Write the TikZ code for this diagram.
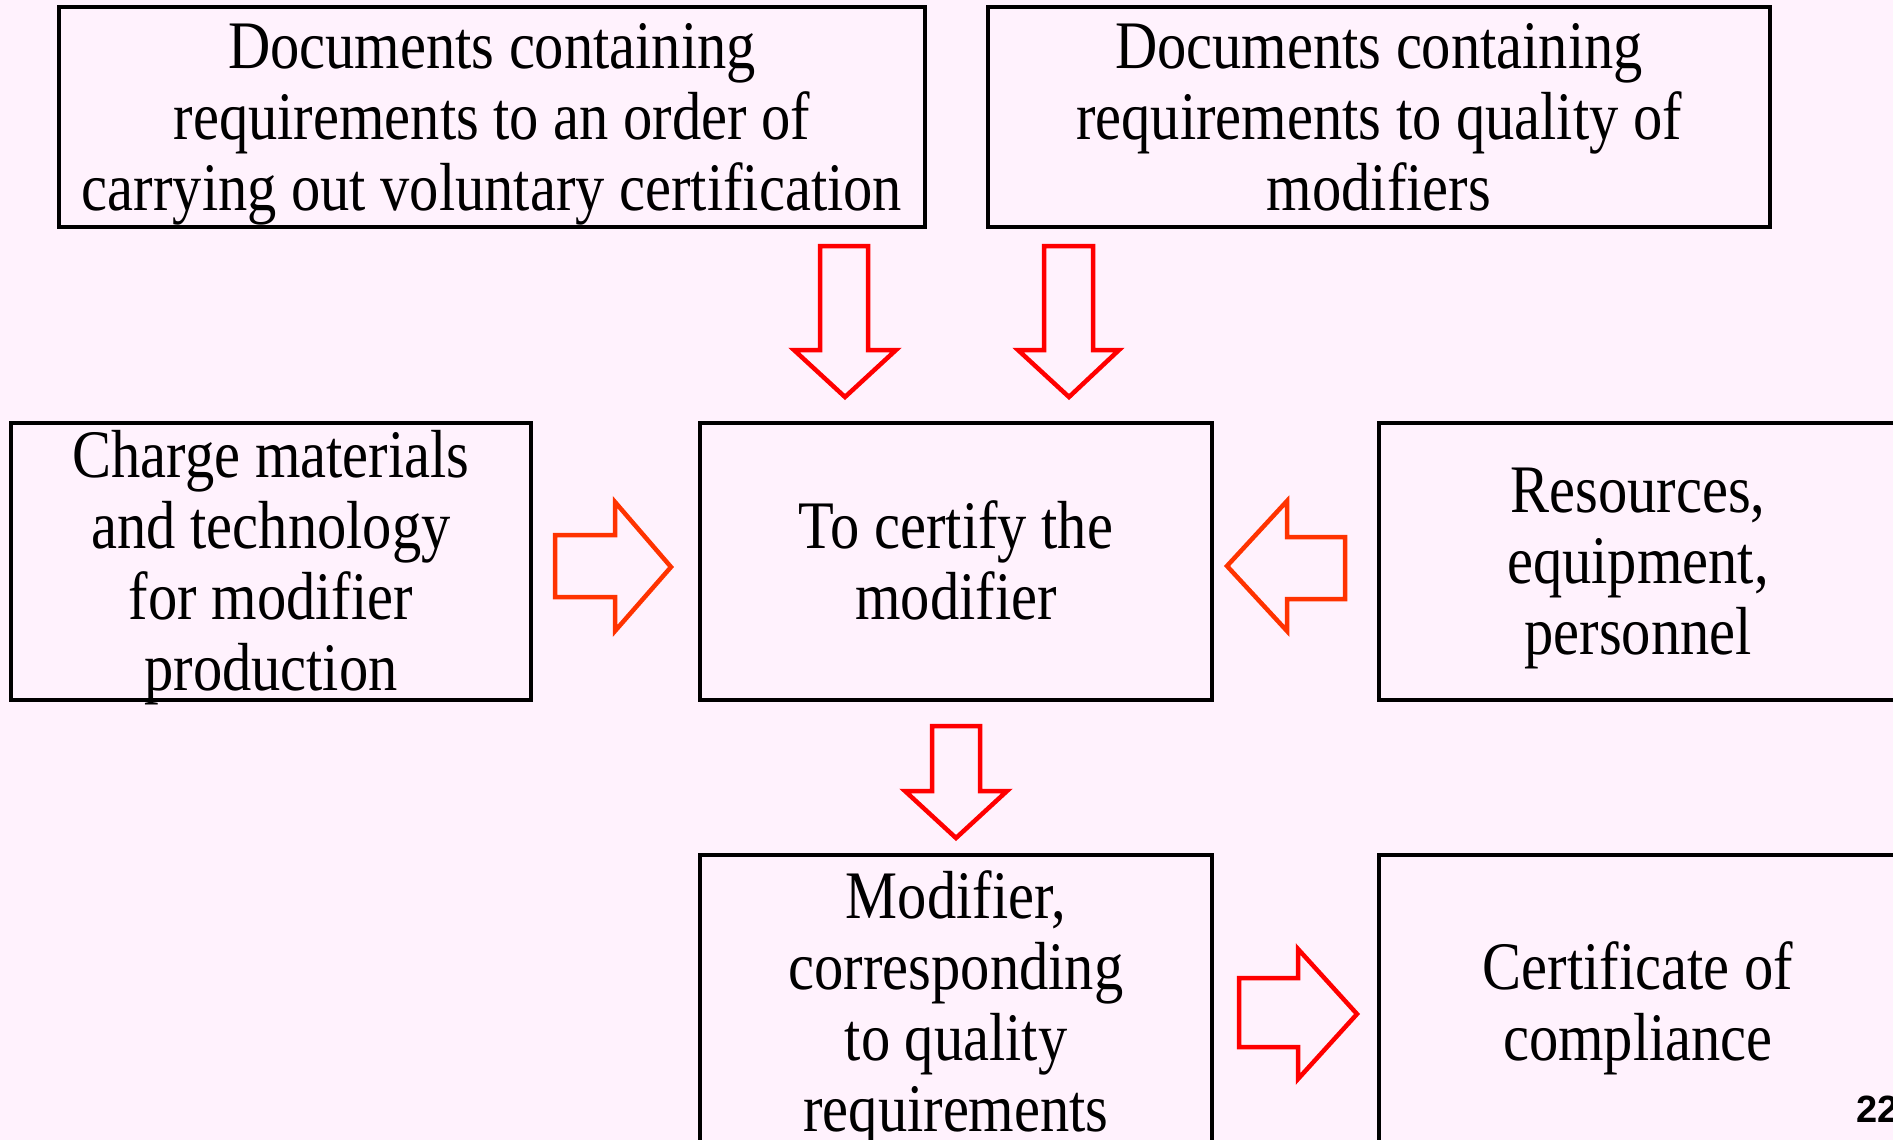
\documentclass[tikz,border=0pt]{standalone}
\usepackage{fontspec}
\setmainfont{Liberation Serif}[FakeStretch=0.86]
\newfontfamily\numfont{Liberation Sans}
\definecolor{bgpink}{RGB}{255,242,253}
\definecolor{arrred}{RGB}{255,0,0}
\definecolor{arrorange}{RGB}{255,51,0}
\begin{document}
\begin{tikzpicture}[x=1pt,y=-1pt,
  box/.style={draw=black,line width=4pt,rectangle,inner sep=0pt},
  boxtext/.style={align=center,inner sep=0pt,yshift=-8pt,
    font=\fontsize{68}{71}\selectfont},
  blockarrow/.style={line width=4.5pt,line join=miter,miter limit=10}]
\fill[bgpink] (0,0) rectangle (1893,1140);
\useasboundingbox (0,0) rectangle (1893,1140);
\node[box,minimum width=866pt,minimum height=220pt,
  label={[boxtext]center:{\strut Documents containing\\requirements to an order of\\carrying out voluntary certification\strut}}] (docorder) at (492,117) {};
\node[box,minimum width=782pt,minimum height=220pt,
  label={[boxtext]center:{\strut Documents containing\\requirements to quality of\\modifiers\strut}}] (docquality) at (1379,117) {};
\node[box,minimum width=520pt,minimum height=277pt,
  label={[boxtext]center:{\strut Charge materials\\and technology\\for modifier\\production\strut}}] (charge) at (271,561.5) {};
\node[box,minimum width=512pt,minimum height=277pt,
  label={[boxtext]center:{\strut To certify the\\modifier\strut}}] (certify) at (956,561.5) {};
\node[box,minimum width=518pt,minimum height=277pt,
  label={[boxtext]center:{\strut Resources,\\equipment,\\personnel\strut}}] (resources) at (1638,561.5) {};
\node[box,minimum width=512pt,minimum height=295pt,
  label={[boxtext]center:{\strut Modifier,\\corresponding\\to quality\\requirements\strut}}] (modifier) at (956,1002.5) {};
\node[box,minimum width=518pt,minimum height=295pt,
  label={[boxtext]center:{\strut Certificate of\\compliance\strut}}] (certificate) at (1638,1002.5) {};
% block arrows
\draw[blockarrow,draw=arrred] (820,246) -- (868,246) -- (868,350) -- (896,350) -- (845,397) -- (794,350) -- (820,350) -- cycle;
\draw[blockarrow,draw=arrred] (1044,246) -- (1093,246) -- (1093,350) -- (1119,350) -- (1069,397) -- (1018,350) -- (1044,350) -- cycle;
\draw[blockarrow,draw=arrred] (932,726) -- (980,726) -- (980,791) -- (1007,791) -- (956,838) -- (905,791) -- (932,791) -- cycle;
\draw[blockarrow,draw=arrorange] (555,535) -- (615,535) -- (615,502) -- (671,567) -- (615,631) -- (615,597) -- (555,597) -- cycle;
\draw[blockarrow,draw=arrorange] (1345,537) -- (1287,537) -- (1287,501) -- (1227,566) -- (1287,631) -- (1287,599) -- (1345,599) -- cycle;
\draw[blockarrow,draw=arrred] (1239,978) -- (1298,978) -- (1298,949) -- (1357,1014) -- (1298,1079) -- (1298,1047) -- (1239,1047) -- cycle;
\node[anchor=base west,inner sep=0pt,font=\numfont\bfseries\fontsize{38}{40}\selectfont] (pagenum) at (1856,1122) {22};
\end{tikzpicture}
\end{document}
